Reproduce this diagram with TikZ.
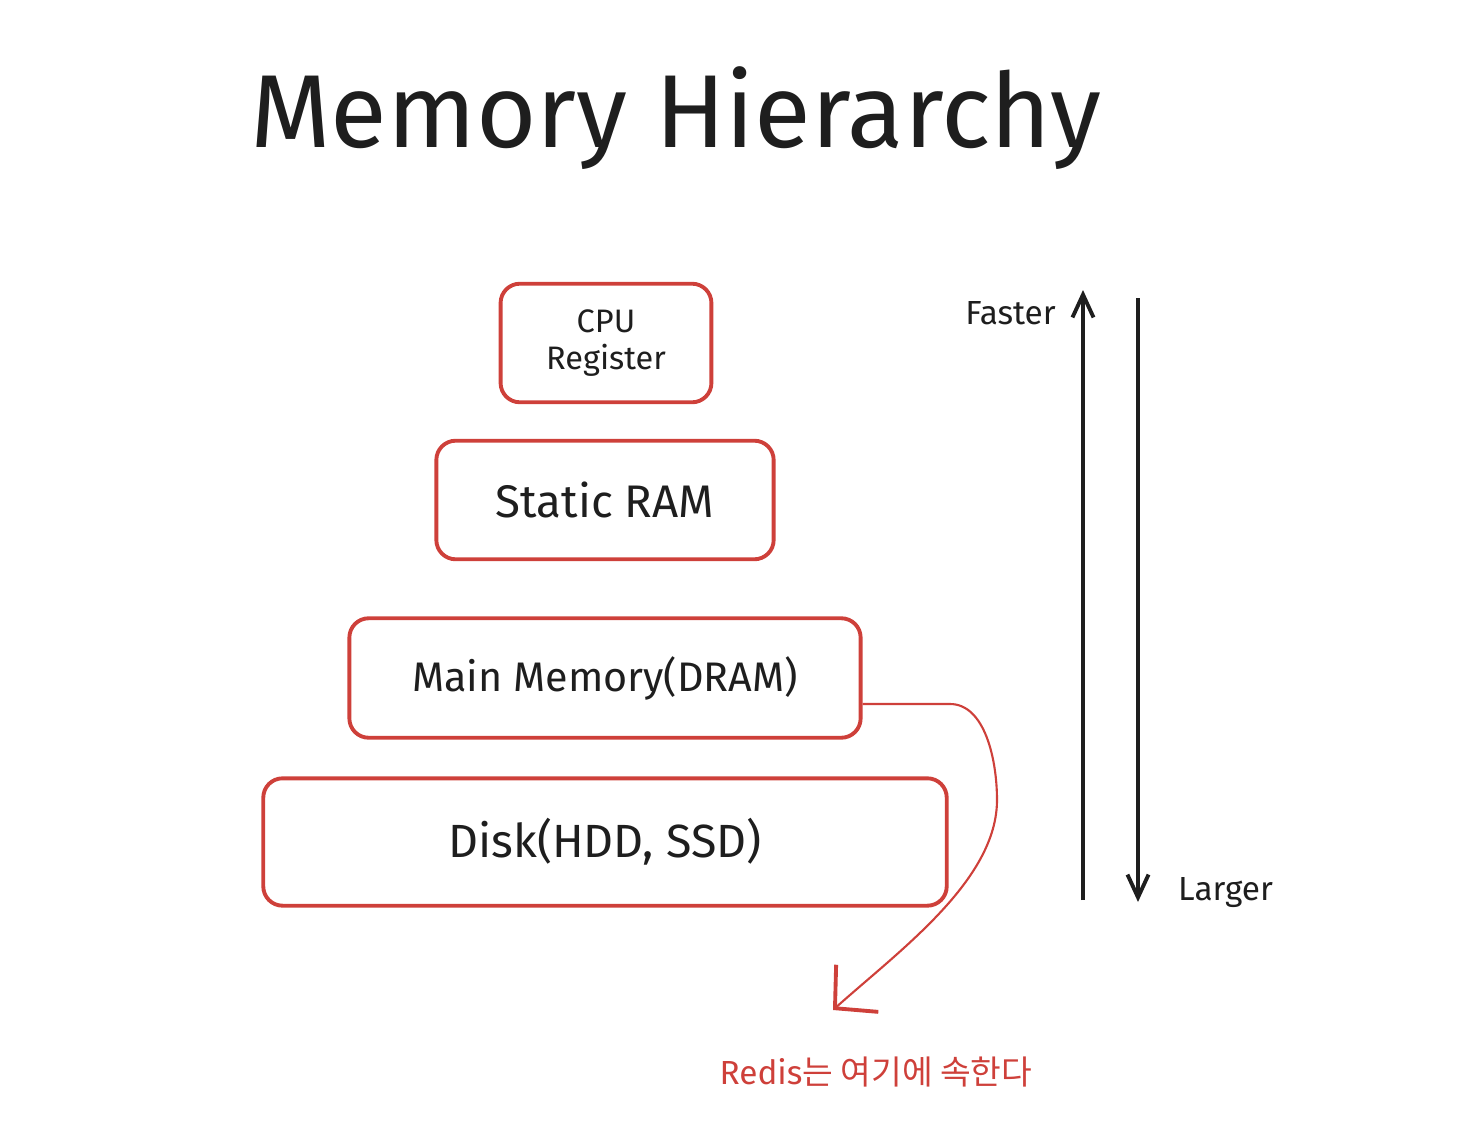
\documentclass[tikz,border=0pt]{standalone}
\usepackage{fontspec}
\setmainfont{Fira Sans}
\newfontfamily\krfont{Noto Sans CJK KR}
\usetikzlibrary{arrows.meta,calc}

\definecolor{memred}{RGB}{206,64,58}
\definecolor{ink}{RGB}{30,30,30}

\tikzset{
    level/.style = {draw=memred, line width=2.2pt, rounded corners=11pt,
                    inner sep=0pt, align=center, text=ink},
    scalearrow/.style = {draw=ink, line width=2.3pt,
                         -{Straight Barb[length=13pt, width=12pt, line width=2.2pt]}},
    scalelabel/.style = {text=ink, font=\fontsize{19}{22}\selectfont},
    redisline/.style = {draw=memred, line width=1.2pt,
                        -{Straight Barb[length=17pt, width=36pt, line width=2.2pt]}}
}

\begin{document}
\begin{tikzpicture}[x = 0.02cm, y = -0.02cm]

    \useasboundingbox (0,0) rectangle (1468,1146);

    % Titolo
    \node[text=ink, font=\fontsize{59}{63}\selectfont] (title) at (676,118) {Memory Hierarchy};

    % Livelli della gerarchia
    \node[level, minimum width=120pt, minimum height=67.5pt,
          font=\fontsize{18.5}{21.5}\selectfont] (cpu) at (606,343) {CPU\\Register};
    \node[level, minimum width=192pt, minimum height=67.5pt,
          font=\fontsize{26}{30}\selectfont] (sram) at (605,500) {Static RAM};
    \node[level, minimum width=291pt, minimum height=68pt,
          font=\fontsize{23.5}{28}\selectfont] (dram) at (605,678) {Main Memory(DRAM)};
    \node[level, minimum width=389pt, minimum height=72.5pt,
          font=\fontsize{26.5}{30}\selectfont] (disk) at (605,842) {Disk(HDD, SSD)};

    % Frecce a destra
    \coordinate (fastlo) at (1083,900);
    \coordinate (fasthi) at (1083,290);
    \coordinate (largehi) at (1138,298);
    \coordinate (largelo) at (1138,902);
    \draw[scalearrow] (fastlo) -- (fasthi);
    \draw[scalearrow] (largehi) -- (largelo);
    \node[scalelabel, anchor=east] (faster) at (1062,313) {Faster};
    \node[scalelabel, anchor=west] (larger) at (1172,893) {Larger};

    % Redis
    \coordinate (redistip) at (833,1010);
    \draw[redisline] ($(dram.east)+(0,26)$) -- (950,704)
        .. controls (985,704) and (997,760) .. (997,800)
        .. controls (997,880) and (900,950) .. (redistip);
    \node[text=memred, font=\fontsize{19}{23}\selectfont] (redis) at (876,1072)
        {Redis\krfont{는 여기에 속한다}};

\end{tikzpicture}
\end{document}
